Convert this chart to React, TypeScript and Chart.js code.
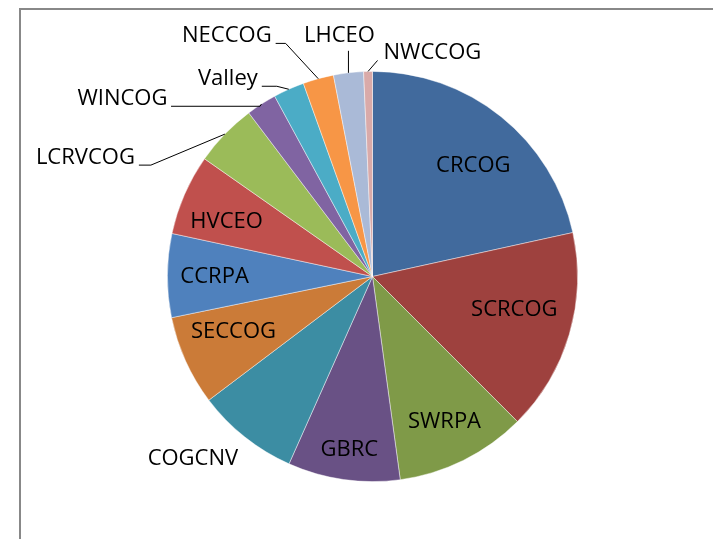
import React, { useEffect, useRef } from "react";
import { Chart, registerables } from "chart.js";

Chart.register(...registerables);

const categories = [
  "CRCOG", "SCRCOG", "SWRPA", "GBRC", "COGCNV", "SECCOG", "CCRPA",
  "HVCEO", "LCRVCOG", "WINCOG", "Valley", "NECCOG", "LHCEO", "NWCCOG",
];
const shares = [21.56, 15.94, 10.33, 8.83, 8.03, 7.08, 6.58, 6.36, 4.97, 2.39, 2.44, 2.42, 2.36, 0.69];
const sliceColors = [
  "#416A9D", "#9E413E", "#7F9A48", "#695185", "#3C8DA3", "#CB7B38", "#4F81BD",
  "#C0504D", "#9BBB59", "#8064A2", "#4BACC6", "#F79646", "#AABAD7", "#D9AAA9",
];

// Label placement (layout only)
// inside: fraction of radius and angular tweak (degrees)
const insidePlacement: Record<string, [number, number]> = {
  CRCOG: [0.73, 3.5],
  SCRCOG: [0.71, -3.2],
  SWRPA: [0.79, 0],
  GBRC: [0.85, -0.5],
  SECCOG: [0.73, 2.5],
  CCRPA: [0.77, -0.25],
  HVCEO: [0.76, -3],
};
// outside: offsets from the rim point at mid-angle: line points and text anchor
type Outside = { pts: [number, number][]; text: [number, number]; align: CanvasTextAlign };
const outsidePlacement: Record<string, Outside> = {
  COGCNV: { pts: [], text: [-52, 22], align: "center" },
  LCRVCOG: { pts: [[-74, 31], [-86, 31]], text: [-90, 24], align: "right" },
  WINCOG: { pts: [[-1.4, 2.2], [-90.4, 2.2]], text: [-94, -5.8], align: "right" },
  Valley: { pts: [[-12, -3], [-27, -3]], text: [-31, -11], align: "right" },
  NECCOG: { pts: [[-32.6, -35.3], [-42.6, -35.3]], text: [-46.6, -43.3], align: "right" },
  LHCEO: { pts: [[0, -22]], text: [-9, -37], align: "center" },
  NWCCOG: { pts: [[9.5, -11]], text: [15.5, -19], align: "left" },
};

const FONT = '22px "Open Sans"';

const framePlugin = {
  id: "frame",
  beforeDraw(chart: any) {
    const ctx = chart.ctx;
    ctx.save();
    ctx.fillStyle = "#ffffff";
    ctx.fillRect(0, 0, chart.width, chart.height);
    ctx.strokeStyle = "#888888";
    ctx.lineWidth = 2;
    ctx.strokeRect(20, 9, 2000, 2000);
    ctx.restore();
  },
};

const labelPlugin = {
  id: "sliceLabels",
  afterDraw(chart: any) {
    const ctx = chart.ctx;
    const meta = chart.getDatasetMeta(0);
    ctx.save();
    ctx.font = FONT;
    ctx.fillStyle = "#000";
    ctx.strokeStyle = "#000";
    ctx.lineWidth = 1;
    ctx.textBaseline = "middle";
    meta.data.forEach((arc: any, i: number) => {
      const name = categories[i];
      const { x, y, startAngle, endAngle, outerRadius } = arc.getProps(
        ["x", "y", "startAngle", "endAngle", "outerRadius"], true
      );
      const mid = (startAngle + endAngle) / 2;
      if (insidePlacement[name]) {
        const [f, da] = insidePlacement[name];
        const a = mid + (da * Math.PI) / 180;
        ctx.textAlign = "center";
        ctx.fillText(name, x + Math.cos(a) * outerRadius * f, y + Math.sin(a) * outerRadius * f);
      } else if (outsidePlacement[name]) {
        const p = outsidePlacement[name];
        const rx = x + Math.cos(mid) * outerRadius;
        const ry = y + Math.sin(mid) * outerRadius;
        if (p.pts.length) {
          ctx.beginPath();
          ctx.moveTo(rx, ry);
          p.pts.forEach(([dx, dy]) => ctx.lineTo(rx + dx, ry + dy));
          ctx.stroke();
        }
        ctx.textAlign = p.align;
        ctx.fillText(name, rx + p.text[0], ry + p.text[1]);
      }
    });
    ctx.restore();
  },
};

export default function App() {
  const ref = useRef<HTMLCanvasElement | null>(null);
  useEffect(() => {
    if (!ref.current) return;
    const chart = new Chart(ref.current, {
      type: "pie",
      data: {
        labels: categories,
        datasets: [
          {
            data: shares,
            backgroundColor: sliceColors,
            borderColor: "rgba(255,255,255,0.55)",
            borderWidth: 0.8,
          },
        ],
      },
      options: {
        responsive: false,
        animation: false,
        layout: { padding: { top: 71, bottom: 57, left: 167, right: 135 } },
        plugins: {
          legend: { display: false },
          tooltip: { enabled: false },
        },
      },
      plugins: [framePlugin, labelPlugin],
    });
    return () => chart.destroy();
  }, []);
  return (
    <div style={{ position: "absolute", left: 0, top: 0, width: 713, height: 539 }}>
      <canvas ref={ref} width={713} height={539} style={{ width: 713, height: 539 }} />
    </div>
  );
}
